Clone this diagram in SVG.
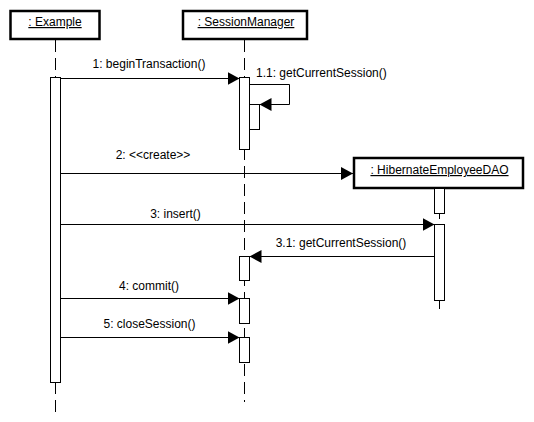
<svg xmlns="http://www.w3.org/2000/svg" width="534" height="422" viewBox="0 0 534 422">
<style>
.obj{fill:#fff;stroke:#000;stroke-width:2.5}
.life{stroke:#000;stroke-width:1;stroke-dasharray:12,6;fill:none}
.act{fill:#fff;stroke:#000;stroke-width:1}
.msg{stroke:#000;stroke-width:1;fill:none}
text{font-family:"Liberation Sans",Arial,sans-serif;font-size:12px;fill:#000}
.u{text-decoration:underline}
</style>
<defs>
<marker id="ah" markerUnits="userSpaceOnUse" markerWidth="13" markerHeight="13" refX="12" refY="6.5" orient="auto">
<path d="M0,0 L12,6.5 L0,13 z" fill="#000"/>
</marker>
</defs>
<rect width="534" height="422" fill="#fff"/>
<g id="lifelines">
<line class="life" x1="55.5" y1="40" x2="55.5" y2="412"/>
<line class="life" x1="244.5" y1="40" x2="244.5" y2="402"/>
<line class="life" x1="439.5" y1="189" x2="439.5" y2="310"/>
</g>
<g id="example">
<rect class="obj" x="10.5" y="11" width="89" height="28"/>
<text class="u" x="55" y="26" text-anchor="middle">: Example</text>
<rect class="act" x="50.5" y="77.5" width="10" height="305"/>
</g>
<g id="sessionManager">
<rect class="obj" x="183" y="11" width="124" height="28"/>
<text class="u" x="246" y="26" text-anchor="middle">: SessionManager</text>
<rect class="act" x="239.5" y="77.5" width="10" height="72"/>
<rect class="act" x="249.5" y="104.5" width="10" height="25"/>
<rect class="act" x="239.5" y="256.5" width="10" height="24"/>
<rect class="act" x="239.5" y="298.5" width="10" height="25"/>
<rect class="act" x="239.5" y="337.5" width="10" height="25"/>
</g>
<g id="hibernateEmployeeDAO">
<rect class="obj" x="354" y="158" width="169" height="30"/>
<text class="u" x="439.5" y="174" text-anchor="middle">: HibernateEmployeeDAO</text>
<rect class="act" x="434.5" y="188.5" width="10" height="25"/>
<rect class="act" x="434.5" y="224.5" width="10" height="76"/>
</g>
<g id="connectors">
<line class="msg" x1="60.5" y1="78.5" x2="239.5" y2="78.5" marker-end="url(#ah)"/>
<polyline class="msg" points="249.5,84.5 289.5,84.5 289.5,104.5 259.5,104.5" marker-end="url(#ah)"/>
<line class="msg" x1="60.5" y1="173.5" x2="353" y2="173.5" marker-end="url(#ah)"/>
<line class="msg" x1="60.5" y1="224.5" x2="434.5" y2="224.5" marker-end="url(#ah)"/>
<line class="msg" x1="434.5" y1="256.5" x2="249.5" y2="256.5" marker-end="url(#ah)"/>
<line class="msg" x1="60.5" y1="298.5" x2="239.5" y2="298.5" marker-end="url(#ah)"/>
<line class="msg" x1="60.5" y1="337.5" x2="239.5" y2="337.5" marker-end="url(#ah)"/>
<text x="149" y="68" text-anchor="middle">1: beginTransaction()</text>
<text x="256" y="77">1.1: getCurrentSession()</text>
<text x="153" y="159" text-anchor="middle">2: &lt;&lt;create&gt;&gt;</text>
<text x="175.5" y="218" text-anchor="middle">3: insert()</text>
<text x="341" y="247" text-anchor="middle">3.1: getCurrentSession()</text>
<text x="149" y="290" text-anchor="middle">4: commit()</text>
<text x="149.5" y="328" text-anchor="middle">5: closeSession()</text>
</g>
</svg>
